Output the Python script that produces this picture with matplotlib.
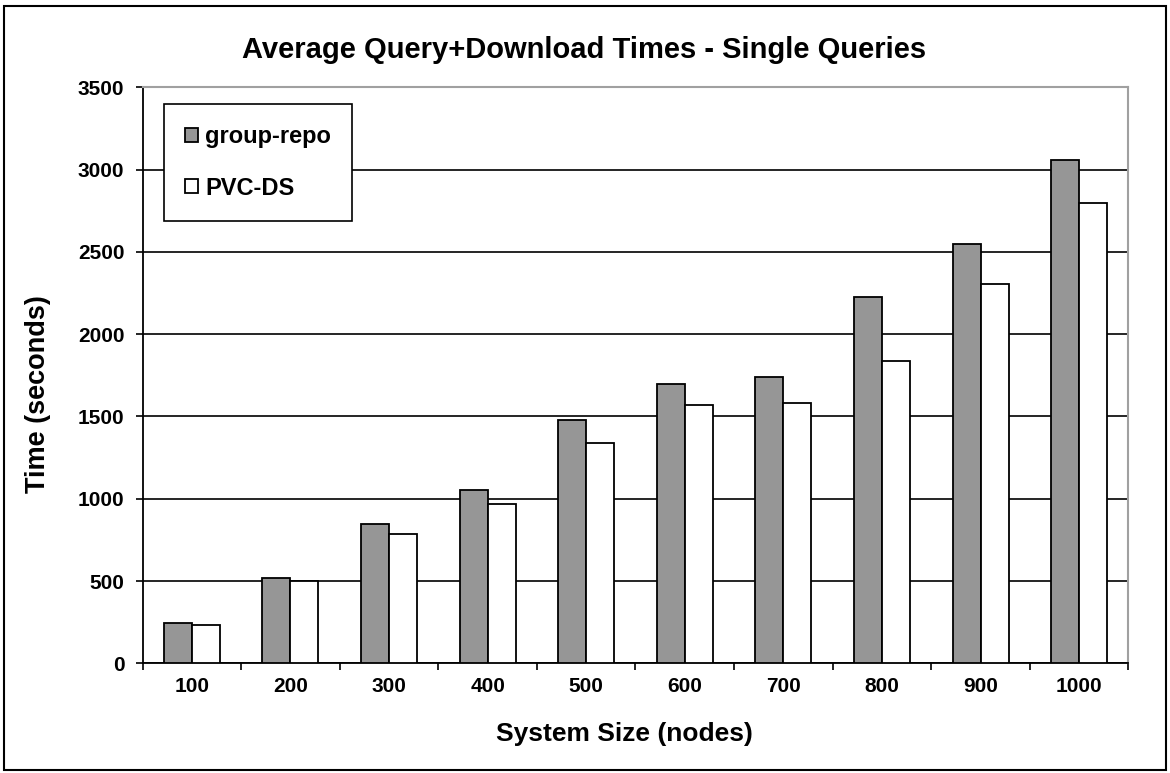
import matplotlib.pyplot as plt
import numpy as np
from matplotlib.patches import Rectangle

plt.rcParams['font.family'] = ['Liberation Sans', 'DejaVu Sans']

# ---- Data ----
sizes = ['100', '200', '300', '400', '500', '600', '700', '800', '900', '1000']
group_repo = [243, 518, 846, 1053, 1476, 1700, 1741, 2225, 2550, 3061]
pvc_ds = [231, 500, 785, 968, 1336, 1569, 1579, 1838, 2307, 2794]

# ---- Plot ----
fig = plt.figure(figsize=(11.7, 7.73), dpi=100)
ax = fig.add_axes([0.1218, 0.1419, 0.8427, 0.7452])

x = np.arange(len(sizes))
w = 0.284
ax.bar(x - w / 2, group_repo, w, color='#969696', edgecolor='black',
       linewidth=1.3, label='group-repo', zorder=3)
ax.bar(x + w / 2, pvc_ds, w, color='white', edgecolor='black',
       linewidth=1.3, label='PVC-DS', zorder=3)

ax.set_xlim(-0.5, len(sizes) - 0.5)
ax.set_ylim(0, 3500)
ax.set_yticks(np.arange(0, 3501, 500))
ax.yaxis.grid(True, color='black', linewidth=1.2, zorder=0)

# category labels centred, ticks between categories
ax.set_xticks(x)
ax.set_xticklabels(sizes, fontsize=15, fontweight='bold')
ax.tick_params(axis='x', length=0, pad=10)
ax.set_xticks(np.arange(-0.5, len(sizes)), minor=True)
ax.tick_params(axis='x', which='minor', length=5, width=1.2, direction='out')
for lbl in ax.get_yticklabels():
    lbl.set_fontweight('bold')
    lbl.set_fontsize(15)
ax.tick_params(axis='y', length=5, width=1.2, direction='out', pad=8)

ax.spines['left'].set_linewidth(1.3)
ax.spines['bottom'].set_linewidth(1.3)
ax.spines['top'].set_color('#a0a0a0')
ax.spines['right'].set_color('#a0a0a0')
ax.spines['top'].set_linewidth(1.5)
ax.spines['right'].set_linewidth(1.5)

fig.text(0.499, 0.935, 'Average Query+Download Times - Single Queries',
         ha='center', va='center', fontsize=21, fontweight='bold')
ax.set_xlabel('System Size (nodes)', fontsize=19, fontweight='bold')
ax.xaxis.set_label_coords(0.489, -0.1227)
ax.xaxis.label.set_va('center')
ax.set_ylabel('Time (seconds)', fontsize=19.5, fontweight='bold')
ax.yaxis.set_label_coords(-0.106, 0.4675)
ax.yaxis.label.set_va('center')

leg = ax.legend(loc='upper left', bbox_to_anchor=(0.0218, 0.971),
                prop={'weight': 'bold', 'size': 17}, fancybox=False,
                edgecolor='black', framealpha=1, handlelength=0.55,
                handleheight=0.55, handletextpad=0.3, labelspacing=1.2,
                borderpad=0.9, borderaxespad=0)
leg.get_frame().set_linewidth(1.2)
leg.set_zorder(5)

# outer frame around the chart
fig.patches.append(Rectangle((0.003, 0.004), 0.994, 0.988, transform=fig.transFigure,
                             fill=False, edgecolor='black', linewidth=1.5))

plt.savefig('out.png', dpi=100)
